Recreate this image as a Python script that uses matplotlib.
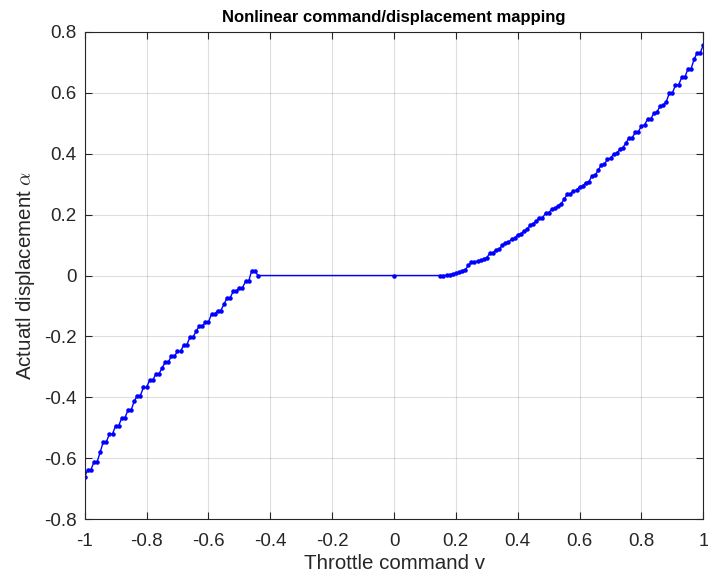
import numpy as np
import matplotlib
matplotlib.use("Agg")
import matplotlib.pyplot as plt
from matplotlib.ticker import FormatStrFormatter

plt.rcParams['font.family'] = ['Liberation Sans', 'DejaVu Sans']
plt.rcParams['mathtext.fontset'] = 'cm'
plt.rcParams['axes.unicode_minus'] = False

# sample grid of the command (step 0.01), dead zone between -0.44 and 0.15
x_neg = np.round(np.arange(-100, -43) / 100, 2)
x_mid = [0.0]
x_pos = np.round(np.arange(15, 101) / 100, 2)

# displacement
y_neg = [-0.660, -0.638, -0.638, -0.612, -0.612, -0.580, -0.546, -0.546, -0.520, -0.520,
         -0.493, -0.493, -0.467, -0.467, -0.442, -0.442, -0.413, -0.394, -0.394, -0.367,
         -0.367, -0.344, -0.344, -0.323, -0.323, -0.304, -0.285, -0.285, -0.265, -0.265,
         -0.249, -0.249, -0.228, -0.228, -0.203, -0.203, -0.183, -0.167, -0.167, -0.153,
         -0.153, -0.127, -0.127, -0.115, -0.115, -0.095, -0.074, -0.074, -0.052, -0.052,
         -0.041, -0.041, -0.019, -0.019, 0.016, 0.016, 0.000]
y_mid = [0.0]
y_pos = [0.000, 0.000, 0.001, 0.003, 0.005, 0.007, 0.010, 0.016, 0.018, 0.033,
         0.043, 0.045, 0.047, 0.050, 0.054, 0.059, 0.073, 0.075, 0.084, 0.086,
         0.099, 0.106, 0.109, 0.119, 0.122, 0.134, 0.137, 0.146, 0.151, 0.165,
         0.170, 0.178, 0.190, 0.190, 0.204, 0.206, 0.217, 0.220, 0.229, 0.235,
         0.250, 0.267, 0.267, 0.277, 0.280, 0.291, 0.294, 0.305, 0.308, 0.327,
         0.329, 0.345, 0.363, 0.365, 0.381, 0.384, 0.399, 0.401, 0.414, 0.420,
         0.435, 0.452, 0.452, 0.470, 0.472, 0.491, 0.494, 0.514, 0.514, 0.532,
         0.536, 0.556, 0.558, 0.570, 0.598, 0.599, 0.625, 0.625, 0.650, 0.650,
         0.677, 0.677, 0.709, 0.731, 0.731, 0.756]

x = np.concatenate([x_neg, x_mid, x_pos])
y = np.concatenate([y_neg, y_mid, y_pos])

x_ticks = [-1, -0.8, -0.6, -0.4, -0.2, 0, 0.2, 0.4, 0.6, 0.8, 1]
y_ticks = [-0.8, -0.6, -0.4, -0.2, 0, 0.2, 0.4, 0.6, 0.8]

fig = plt.figure(figsize=(7.08, 5.81), dpi=100)
ax = fig.add_axes([0.1196, 0.1062, 0.8738, 0.8392])

ax.plot(x, y, color=(0, 0, 1), linewidth=1.0, marker='.', markersize=4.5)

ax.set_xlim(-1, 1)
ax.set_ylim(-0.8, 0.8)
ax.set_xticks(x_ticks)
ax.set_yticks(y_ticks)
ax.xaxis.set_major_formatter(FormatStrFormatter('%g'))
ax.yaxis.set_major_formatter(FormatStrFormatter('%g'))

dark = (0.15, 0.15, 0.15)
ax.grid(True, color=(0.15, 0.15, 0.15), alpha=0.15, linewidth=0.8)
ax.set_axisbelow(True)
ax.tick_params(direction='in', length=5, width=0.8, top=True, right=True,
               labelsize=13.5, colors=dark)
ax.tick_params(axis='x', pad=10)
ax.tick_params(axis='y', pad=6)
for sp in ax.spines.values():
    sp.set_color(dark)
    sp.set_linewidth(0.8)

ax.set_title('Nonlinear command/displacement mapping', fontsize=12,
             fontweight='bold', color='black', pad=7)
ax.set_xlabel('Throttle command v', fontsize=14.8, color=dark, labelpad=3)
ax.set_ylabel(r'Actuatl displacement $\alpha$', fontsize=14.8, color=dark, labelpad=4.5)

plt.savefig('out.png', dpi=100)
